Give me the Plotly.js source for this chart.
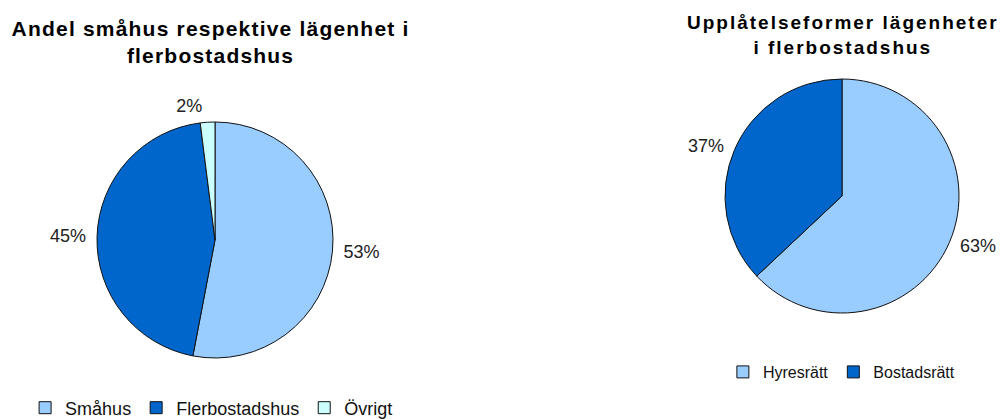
<!DOCTYPE html>
<html><head><meta charset="utf-8">
<script src="https://cdn.plot.ly/plotly-3.0.1.min.js"></script>
<style>html,body{margin:0;padding:0;background:#fff}#c{width:1004px;height:419px}
.annotation[data-index="0"] .annotation-text{letter-spacing:1.2px}
.annotation[data-index="1"] .annotation-text{letter-spacing:2px}
</style>
</head><body><div id="c"></div>
<script>
const leftLabels = ["Småhus", "Flerbostadshus", "Övrigt"];
const leftValues = [53, 45, 2];
const leftColors = ["#99CCFF", "#0066CC", "#CCFFFF"];
const rightLabels = ["Hyresrätt", "Bostadsrätt"];
const rightValues = [63, 37];
const rightColors = ["#99CCFF", "#0066CC"];
const leftTitle = "Andel småhus respektive lägenhet i<br>flerbostadshus";
const rightTitle = "Upplåtelseformer lägenheter<br>i flerbostadshus";

const W = 1004, H = 419;
const FONT = "Liberation Sans, Arial, sans-serif";
function dom(cx, cy, r) {
  return {x: [(cx - r) / W, (cx + r) / W], y: [1 - (cy + r) / H, 1 - (cy - r) / H]};
}
const base = {type: "pie", sort: false, direction: "clockwise", rotation: 0, hoverinfo: "skip"};
function visiblePie(labels, values, colors, d, lg) {
  return Object.assign({}, base, {
    labels: labels, values: values, textinfo: "none",
    marker: {colors: colors, line: {color: "#111", width: 1}},
    domain: d, legend: lg
  });
}
// transparent label carriers, slightly larger so labels sit further out
function labelPie(labels, values, d) {
  return Object.assign({}, base, {
    labels: labels, values: values, showlegend: false,
    textinfo: "percent", textposition: "outside", texttemplate: "%{percent:.0%}",
    outsidetextfont: {family: FONT, size: 18, color: "#222"},
    marker: {colors: labels.map(() => "rgba(0,0,0,0)"), line: {width: 0}},
    domain: d
  });
}
const data = [
  visiblePie(leftLabels, leftValues, leftColors, dom(215, 240, 118), "legend"),
  labelPie(leftLabels, leftValues, dom(215, 240, 124)),
  visiblePie(rightLabels, rightValues, rightColors, dom(842, 196, 117), "legend2"),
  labelPie(rightLabels, rightValues, dom(842, 196, 123))
];
const layout = {
  width: W, height: H, margin: {l: 0, r: 0, t: 0, b: 0, autoexpand: false},
  paper_bgcolor: "#fff", plot_bgcolor: "#fff",
  showlegend: true,
  legend: {orientation: "h", x: 0.025, y: 1 - 408 / H, xanchor: "left", yanchor: "middle",
    font: {family: FONT, size: 18, color: "#111"},
    itemwidth: 30, bgcolor: "rgba(0,0,0,0)"},
  legend2: {orientation: "h", x: 0.72, y: 1 - 372 / H, xanchor: "left", yanchor: "middle",
    font: {family: FONT, size: 16, color: "#111"},
    itemwidth: 30, bgcolor: "rgba(0,0,0,0)"},
  annotations: [
    {text: "<b>" + leftTitle + "</b>", x: 210 / W, y: 1 - 42 / H, xref: "paper", yref: "paper",
     xanchor: "center", yanchor: "middle", showarrow: false, align: "center",
     font: {family: FONT, size: 21, color: "#000"}},
    {text: "<b>" + rightTitle + "</b>", x: 843 / W, y: 1 - 35 / H, xref: "paper", yref: "paper",
     xanchor: "center", yanchor: "middle", showarrow: false, align: "center",
     font: {family: FONT, size: 19, color: "#000"}}
  ]
};
Plotly.newPlot("c", data, layout, {displayModeBar: false, staticPlot: true});
</script></body></html>
